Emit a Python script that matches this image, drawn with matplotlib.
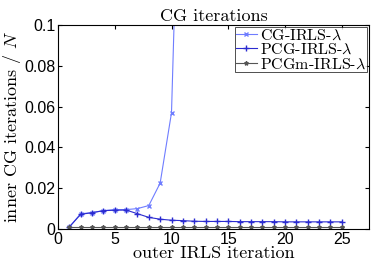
import matplotlib
matplotlib.use("Agg")
import matplotlib.pyplot as plt

outer = list(range(1, 26))
cg_x = list(range(1, 12))
cg_vals = [0.001, 0.0075, 0.008, 0.009, 0.0095, 0.0095, 0.0100, 0.0115, 0.0225, 0.057, 0.25]
pcg_vals = [0.001, 0.0072, 0.0080, 0.0090, 0.0092, 0.0093, 0.0075, 0.0057, 0.0048, 0.0043,
            0.0041, 0.0038, 0.0037, 0.0037, 0.0037, 0.0036, 0.0036, 0.0036, 0.0036, 0.0035,
            0.0035, 0.0035, 0.0035, 0.0035, 0.0035]
pcgm_vals = [0.001] * 25
labels = [r"CG-IRLS-$\lambda$", r"PCG-IRLS-$\lambda$", r"PCGm-IRLS-$\lambda$"]

plt.rcParams["mathtext.fontset"] = "cm"
serif = {"family": "cmr10", "size": 13}

fig = plt.figure(figsize=(3.74, 2.64), dpi=100)
ax = fig.add_axes([58 / 374, 1 - 229 / 264, 311 / 374, 204 / 264])

ax.plot(cg_x, cg_vals, color="#6f7dff", marker="x", ms=3, lw=0.8, label=labels[0])
ax.plot(outer, pcg_vals, color="#2b2bd0", marker="+", ms=4, lw=0.8, label=labels[1])
ax.plot(outer, pcgm_vals, color="#555555", marker="*", ms=3, lw=0.8, label=labels[2])

ax.set_xlim(0, 27.4)
ax.set_ylim(0, 0.1)
ax.set_xticks([0, 5, 10, 15, 20, 25])
ax.set_yticks([0, 0.02, 0.04, 0.06, 0.08, 0.1])
ax.set_yticklabels(["0", "0.02", "0.04", "0.06", "0.08", "0.1"])
ax.tick_params(direction="in", top=True, right=True, labelsize=11.5, length=3, pad=2)
for t in ax.get_xticklabels() + ax.get_yticklabels():
    t.set_family("Liberation Sans")

ax.set_title("CG iterations", fontdict=serif, pad=3)
ax.set_xlabel("outer IRLS iteration", fontdict=serif, labelpad=-1)
ax.set_ylabel(r"inner CG iterations / $N$", fontdict=serif, labelpad=1)

leg = ax.legend(loc="upper right", prop={"family": "cmr10", "size": 11.5}, frameon=True,
                fancybox=False, edgecolor="black", borderpad=0.05, labelspacing=0.0,
                handlelength=1.3, handletextpad=0.2, borderaxespad=0.15)
leg.get_frame().set_linewidth(0.6)

fig.savefig("out.png", dpi=100)
